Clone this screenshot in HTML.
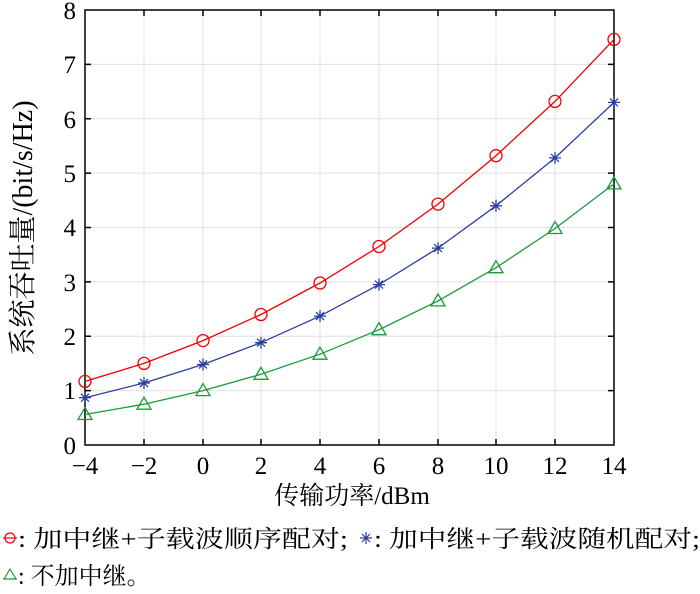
<!DOCTYPE html>
<html><head><meta charset="utf-8"><style>
body{margin:0;background:#fff;}
svg text{font-family:"Liberation Serif","Noto Serif CJK SC",serif;fill:#000;}
</style></head><body>
<svg width="700" height="589" viewBox="0 0 700 589" xmlns="http://www.w3.org/2000/svg">
<g stroke="#e0e0e0" stroke-width="1">
<line x1="144" y1="10" x2="144" y2="445"/><line x1="203" y1="10" x2="203" y2="445"/><line x1="261" y1="10" x2="261" y2="445"/><line x1="320" y1="10" x2="320" y2="445"/><line x1="379" y1="10" x2="379" y2="445"/><line x1="438" y1="10" x2="438" y2="445"/><line x1="496" y1="10" x2="496" y2="445"/><line x1="555" y1="10" x2="555" y2="445"/>
<line x1="85" y1="64.4" x2="614" y2="64.4"/><line x1="85" y1="118.8" x2="614" y2="118.8"/><line x1="85" y1="173.1" x2="614" y2="173.1"/><line x1="85" y1="227.5" x2="614" y2="227.5"/><line x1="85" y1="281.9" x2="614" y2="281.9"/><line x1="85" y1="336.3" x2="614" y2="336.3"/><line x1="85" y1="390.6" x2="614" y2="390.6"/>
</g>
<rect x="85" y="10" width="529" height="435" fill="none" stroke="#000" stroke-width="1.5"/>
<g stroke="#000" stroke-width="1.5">
<path d="M144 445v-6M203 445v-6M261 445v-6M320 445v-6M379 445v-6M438 445v-6M496 445v-6M555 445v-6M144 10v6M203 10v6M261 10v6M320 10v6M379 10v6M438 10v6M496 10v6M555 10v6"/>
<path d="M85 64.4h6M85 118.8h6M85 173.1h6M85 227.5h6M85 281.9h6M85 336.3h6M85 390.6h6M614 64.4h-6M614 118.8h-6M614 173.1h-6M614 227.5h-6M614 281.9h-6M614 336.3h-6M614 390.6h-6"/>
</g>
<g font-size="25" text-anchor="middle">
<text x="85" y="474">−4</text><text x="144" y="474">−2</text><text x="203" y="474">0</text><text x="261" y="474">2</text><text x="320" y="474">4</text><text x="379" y="474">6</text><text x="438" y="474">8</text><text x="496" y="474">10</text><text x="555" y="474">12</text><text x="614" y="474">14</text>
</g>
<g font-size="25" text-anchor="end">
<text x="76" y="454">0</text><text x="76" y="399">1</text><text x="76" y="345">2</text><text x="76" y="291">3</text><text x="76" y="236">4</text><text x="76" y="182">5</text><text x="76" y="128">6</text><text x="76" y="73">7</text><text x="76" y="19">8</text>
</g>
<text x="352" y="504" font-size="25" text-anchor="middle">传输功率/dBm</text>
<text transform="translate(32,228) rotate(-90)" font-size="28" text-anchor="middle">系统吞吐量/(bit/s/Hz)</text>
<g fill="none" stroke-width="1.3">
<polyline stroke="#e00" points="85,381.4 144,363.4 203,340.6 261,314.5 320,283 379,246.5 438,204.1 496,155.7 555,101.4 614,39.4"/>
<polyline stroke="#2a3f9e" points="85,397.7 144,383 203,364.5 261,342.7 320,316.1 379,284.6 438,248.1 496,205.8 555,157.9 614,102.4"/>
<polyline stroke="#1a9a3a" points="85,414.5 144,404.2 203,390.6 261,374.3 320,354.2 379,329.7 438,300.9 496,267.7 555,228.5 614,183.9"/>
</g>
<g fill="none" stroke="#e00" stroke-width="1.3">
<circle cx="85" cy="381.4" r="6"/><circle cx="144" cy="363.4" r="6"/><circle cx="203" cy="340.6" r="6"/><circle cx="261" cy="314.5" r="6"/><circle cx="320" cy="283" r="6"/><circle cx="379" cy="246.5" r="6"/><circle cx="438" cy="204.1" r="6"/><circle cx="496" cy="155.7" r="6"/><circle cx="555" cy="101.4" r="6"/><circle cx="614" cy="39.4" r="6"/>
</g>
<g fill="none" stroke="#2a3f9e" stroke-width="1.3">
<path d="M79,397.7h12M85,391.7v12M81,393.7l8,8M89,393.7l-8,8"/>
<path d="M138,383h12M144,377v12M140,379l8,8M148,379l-8,8"/>
<path d="M197,364.5h12M203,358.5v12M199,360.5l8,8M207,360.5l-8,8"/>
<path d="M255,342.7h12M261,336.7v12M257,338.7l8,8M265,338.7l-8,8"/>
<path d="M314,316.1h12M320,310.1v12M316,312.1l8,8M324,312.1l-8,8"/>
<path d="M373,284.6h12M379,278.6v12M375,280.6l8,8M383,280.6l-8,8"/>
<path d="M432,248.1h12M438,242.1v12M434,244.1l8,8M442,244.1l-8,8"/>
<path d="M490,205.8h12M496,199.8v12M492,201.8l8,8M500,201.8l-8,8"/>
<path d="M549,157.9h12M555,151.9v12M551,153.9l8,8M559,153.9l-8,8"/>
<path d="M608,102.4h12M614,96.4v12M610,98.4l8,8M618,98.4l-8,8"/>
</g>
<g fill="none" stroke="#1a9a3a" stroke-width="1.3">
<path d="M85,407.5l7,12h-14z"/><path d="M144,397.2l7,12h-14z"/><path d="M203,383.6l7,12h-14z"/><path d="M261,367.3l7,12h-14z"/><path d="M320,347.2l7,12h-14z"/><path d="M379,322.7l7,12h-14z"/><path d="M438,293.9l7,12h-14z"/><path d="M496,260.7l7,12h-14z"/><path d="M555,221.5l7,12h-14z"/><path d="M614,176.9l7,12h-14z"/>
</g>
<g fill="none" stroke-width="1.2">
<circle cx="10" cy="538" r="5" stroke="#e00"/><line x1="3" y1="538" x2="17" y2="538" stroke="#e00"/>
<path d="M360,538h12M366,532v12M362,534l8,8M370,534l-8,8" stroke="#2a3f9e"/>
<path d="M10,569l6,10h-12z M3,579h14" stroke="#1a9a3a"/>
</g>
<g font-size="24">
<text x="18" y="547" textLength="330" lengthAdjust="spacingAndGlyphs">: 加中继+子载波顺序配对;</text>
<text x="374" y="547" textLength="326" lengthAdjust="spacingAndGlyphs">: 加中继+子载波随机配对;</text>
<text x="18" y="584">: 不加中继。</text>
</g>
</svg>
</body></html>
